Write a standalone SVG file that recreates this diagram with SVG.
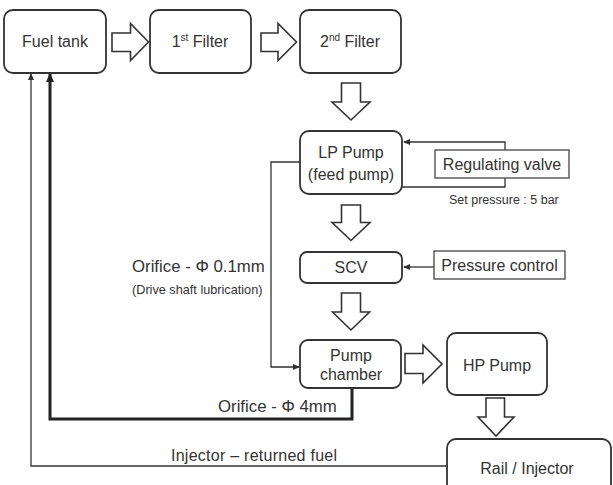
<svg xmlns="http://www.w3.org/2000/svg" width="613" height="485" viewBox="0 0 613 485">
<style>
.box{fill:#fff;stroke:#333;stroke-width:1.8}
.sq{fill:#fff;stroke:#444;stroke-width:1.3}
.ha{fill:#fff;stroke:#333;stroke-width:1.6;stroke-linejoin:miter}
.t{font-family:"Liberation Sans",Arial,sans-serif;font-size:16px;fill:#333;text-anchor:middle}
.lbl{font-family:"Liberation Sans",Arial,sans-serif;fill:#333}
.ln{fill:none;stroke:#333;stroke-width:1.3}
.thick{fill:none;stroke:#222;stroke-width:3}
</style>
<defs>
<marker id="ah" markerUnits="userSpaceOnUse" markerWidth="7" markerHeight="6" refX="6" refY="3" orient="auto"><path d="M0,0 L7,3 L0,6 Z" fill="#333"/></marker>
<marker id="ahb" markerUnits="userSpaceOnUse" markerWidth="9" markerHeight="8" refX="8" refY="4" orient="auto"><path d="M0,0 L9,4 L0,8 Z" fill="#222"/></marker>
</defs>

<g id="connectors">
<path class="ln" d="M505,150 V142 H404" marker-end="url(#ah)"/>
<path class="ln" d="M505,178 V187 H402"/>
<path class="ln" d="M434,267 H404" marker-end="url(#ah)"/>
<path class="ln" d="M300,162 H271 V367 H299" marker-end="url(#ah)"/>
<path class="thick" d="M352,388 V419 H50 V74" marker-end="url(#ahb)"/>
<path class="ln" d="M447,466 H31 V74" marker-end="url(#ah)"/>
<path class="ha" d="M112,33 H130.5 V23.5 L148.5,42 L130.5,60.5 V51.5 H112 Z"/>
<path class="ha" d="M261,33 H278 V23.5 L296.5,42 L278,60.5 V51.5 H261 Z"/>
<path class="ha" d="M341.5,83 V102 H332 L351,120 L370,102 H360.5 V83 Z"/>
<path class="ha" d="M341.5,205 V222.5 H332 L351,240.5 L370,222.5 H360.5 V205 Z"/>
<path class="ha" d="M341.5,293 V312 H332.5 L351,330 L369.5,312 H360.5 V293 Z"/>
<path class="ha" d="M405,353.5 H423 V345 L442,364 L423,383 V373.5 H405 Z"/>
<path class="ha" d="M486,398 V417 H478 L496,436 L514,417 H504.5 V398 Z"/>
</g>

<g id="fuel-tank"><rect class="box" x="4" y="10" width="102" height="63" rx="9"/><text class="t" x="55" y="47">Fuel tank</text></g>
<g id="filter1"><rect class="box" x="150" y="10" width="101" height="63" rx="9"/><text class="t" x="200" y="47">1<tspan font-size="10" dy="-6">st</tspan><tspan dy="6"> Filter</tspan></text></g>
<g id="filter2"><rect class="box" x="300" y="10" width="101" height="63" rx="9"/><text class="t" x="350" y="47">2<tspan font-size="10" dy="-6">nd</tspan><tspan dy="6"> Filter</tspan></text></g>
<g id="lp-pump"><rect class="box" x="300" y="131" width="102" height="63" rx="9"/><text class="t" x="351" y="158">LP Pump</text><text class="t" x="351" y="180">(feed pump)</text></g>
<g id="regulating-valve"><rect class="sq" x="435" y="150" width="134" height="28"/><text class="t" x="502" y="170">Regulating valve</text><text class="lbl" x="449" y="204" font-size="12.5">Set pressure : 5 bar</text></g>
<g id="scv"><rect class="box" x="300" y="252" width="102" height="31" rx="7"/><text class="t" x="351" y="273">SCV</text></g>
<g id="pressure-control"><rect class="sq" x="434" y="251" width="131" height="28"/><text class="t" x="499.5" y="271">Pressure control</text></g>
<g id="pump-chamber"><rect class="box" x="300" y="340" width="101" height="48" rx="8"/><text class="t" x="351" y="361">Pump</text><text class="t" x="351" y="380">chamber</text></g>
<g id="hp-pump"><rect class="box" x="447" y="333" width="100" height="62" rx="9"/><text class="t" x="497" y="371">HP Pump</text></g>
<g id="rail-injector"><rect class="box" x="447" y="439" width="164" height="60" rx="9"/><text class="t" x="527" y="474">Rail / Injector</text></g>

<g id="labels">
<text class="lbl" x="132" y="272" font-size="16.8">Orifice - Φ 0.1mm</text>
<text class="lbl" x="132" y="294" font-size="12.7">(Drive shaft lubrication)</text>
<text class="lbl" x="218" y="412" font-size="16.8">Orifice - Φ 4mm</text>
<text class="lbl" x="171" y="461" font-size="16" textLength="166" lengthAdjust="spacing">Injector – returned fuel</text>
</g>
</svg>
